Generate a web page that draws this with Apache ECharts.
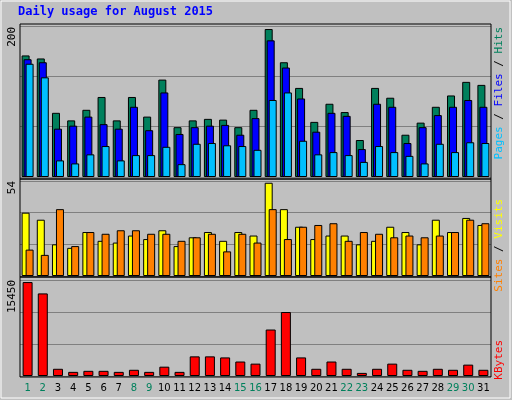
<!DOCTYPE html>
<html><head><meta charset="utf-8">
<script src="https://cdn.jsdelivr.net/npm/echarts@6/dist/echarts.min.js"></script>
<style>html,body{margin:0;padding:0;background:#c0c0c0}#c{width:512px;height:400px}</style>
</head><body><div id="c"></div>
<script>
const days = Array.from({length:31},(_,i)=>String(i+1));
const weekend = [1,2,8,9,15,16,22,23,29,30];
const hits  = [161,157,85,75,89,106,75,106,80,129,66,75,77,76,66,89,196,152,118,73,97,86,49,118,105,56,72,93,108,126,122];
const files = [156,152,64,68,80,70,64,93,62,112,57,66,68,69,56,78,181,145,104,60,85,81,37,97,93,45,66,82,93,102,93];
const pages = [150,132,22,18,30,41,22,29,29,40,17,44,45,42,41,36,102,112,48,30,33,29,20,41,33,28,18,44,33,46,45];
const visits= [36,32,18,16,25,20,19,23,21,26,17,22,25,20,25,23,53,38,28,21,23,23,18,20,28,25,18,32,25,33,29];
const sites = [15,12,38,17,25,24,26,26,24,24,20,22,24,14,24,19,38,21,28,29,30,20,25,24,22,23,22,23,25,32,30];
const kbytes= [15120,13290,1160,665,830,830,665,1000,665,1500,665,3160,3160,2990,2330,1990,7480,10300,2990,1160,2330,1160,500,1160,1990,1000,830,1160,1000,1830,1000];
const maxTop=200, maxMid=54, maxBot=15450;

const C={hits:'#00805c',files:'#0000ff',pages:'#00c0ff',visits:'#ffff00',sites:'#ff8000',kb:'#ff0000',wk:'#00805c'};
const chart=echarts.init(document.getElementById('c'));
const grids=[{left:20,right:21,top:26,height:151},{left:20,right:21,top:181,height:95},{left:20,right:21,top:280,height:96}];
function xa(i,show){return {type:'category',gridIndex:i,data:days,axisLine:{show:false},axisTick:{show:false},
  axisLabel:{show:show,margin:7,fontFamily:'DejaVu Sans',fontSize:10,interval:0,
   formatter:v=>weekend.includes(+v)?'{g|'+v+'}':'{b|'+v+'}',
   rich:{g:{color:C.wk,fontFamily:'DejaVu Sans',fontSize:10},b:{color:'#000',fontFamily:'DejaVu Sans',fontSize:10}}}};}
function ya(i,max){return {type:'value',gridIndex:i,min:0,max:max,interval:max/3,axisLabel:{show:false},axisLine:{show:false},axisTick:{show:false},
  splitLine:{lineStyle:{color:'#808080',width:1}}};}
function bar(name,data,color,xi,w,gap){return {name,type:'bar',xAxisIndex:xi,yAxisIndex:xi,data,barWidth:w,barGap:gap,
  itemStyle:{color,borderColor:'#000',borderWidth:1},animation:false};}
function vtext(x,y,rich,txt,vAlign){return {type:'text',x,y,rotation:Math.PI/2,style:{text:txt,align:'right',verticalAlign:vAlign,fontFamily:'DejaVu Sans Mono',fontSize:11,rich}};}
chart.setOption({
  animation:false,
  backgroundColor:'#c0c0c0',
  grid:grids,
  xAxis:[xa(0,false),xa(1,false),xa(2,true)],
  yAxis:[ya(0,maxTop),ya(1,maxMid),ya(2,maxBot)],
  series:[
    bar('Hits',hits,C.hits,0,8,'-75%'),bar('Files',files,C.files,0,8,'-75%'),bar('Pages',pages,C.pages,0,8,'-75%'),
    bar('Visits',visits,C.visits,1,8,'-50%'),bar('Sites',sites,C.sites,1,8,'-50%'),
    bar('KBytes',kbytes,C.kb,2,10,'0%')
  ],
  graphic:[
    {type:'rect',shape:{x:1,y:1,width:509,height:397},style:{fill:'none',stroke:'#ffffff',lineWidth:1},z:-1},
    {type:'rect',shape:{x:20,y:24,width:471,height:155},style:{fill:'none',stroke:'#000',lineWidth:1},z:10},
    {type:'rect',shape:{x:20,y:179,width:471,height:98},style:{fill:'none',stroke:'#000',lineWidth:1},z:10},
    {type:'rect',shape:{x:20,y:277,width:471,height:100},style:{fill:'none',stroke:'#000',lineWidth:1},z:10},
    {type:'text',x:18,y:6,style:{text:'Daily usage for August 2015',fill:'#0000ff',fontFamily:'DejaVu Sans Mono',fontWeight:'bold',fontSize:12}},
    vtext(18,27,{},'200','bottom'),
    vtext(18,181,{},'54','bottom'),
    vtext(18,280,{},'15450','bottom'),
    {type:'text',x:494,y:27,rotation:Math.PI/2,style:{text:'{p|Pages} / {f|Files} / {h|Hits}',align:'right',verticalAlign:'top',fontFamily:'DejaVu Sans Mono',fontSize:11,fill:'#000',
      rich:{p:{fill:C.pages,fontFamily:'DejaVu Sans Mono',fontSize:11},f:{fill:C.files,fontFamily:'DejaVu Sans Mono',fontSize:11},h:{fill:C.hits,fontFamily:'DejaVu Sans Mono',fontSize:11}}}},
    {type:'text',x:494,y:199,rotation:Math.PI/2,style:{text:'{s|Sites} / {v|Visits}',align:'right',verticalAlign:'top',fontFamily:'DejaVu Sans Mono',fontSize:11,fill:'#000',
      rich:{s:{fill:C.sites,fontFamily:'DejaVu Sans Mono',fontSize:11},v:{fill:C.visits,fontFamily:'DejaVu Sans Mono',fontSize:11}}}},
    {type:'text',x:494,y:340,rotation:Math.PI/2,style:{text:'KBytes',align:'right',verticalAlign:'top',fontFamily:'DejaVu Sans Mono',fontSize:11,fill:C.kb}}
  ]
});
</script></body></html>
